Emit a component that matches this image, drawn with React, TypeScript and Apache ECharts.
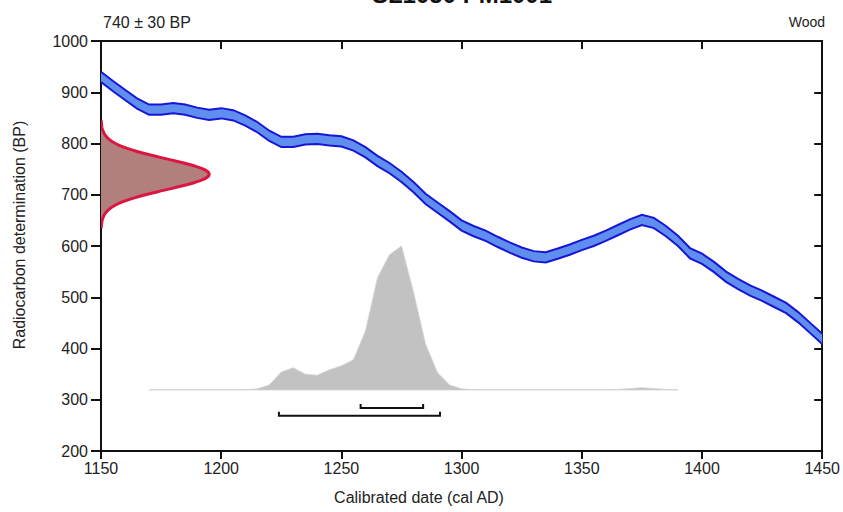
import React, { useEffect, useRef } from "react";
import * as echarts from "echarts";

// ---------- data ----------
const TITLE = "SL1050 PM1001";
const SAMPLE_LABEL = "740 ± 30 BP";
const MATERIAL = "Wood";
const X_NAME = "Calibrated date (cal AD)";
const Y_NAME = "Radiocarbon determination (BP)";
const SAMPLE_BP = 740;
const SAMPLE_ERR = 30;

const CAL_YEARS = [
  1150, 1155, 1160, 1165, 1170, 1175, 1180, 1185, 1190, 1195, 1200, 1205, 1210, 1215, 1220,
  1225, 1230, 1235, 1240, 1245, 1250, 1255, 1260, 1265, 1270, 1275, 1280, 1285, 1290, 1295,
  1300, 1305, 1310, 1315, 1320, 1325, 1330, 1335, 1340, 1345, 1350, 1355, 1360, 1365, 1370,
  1375, 1380, 1385, 1390, 1395, 1400, 1405, 1410, 1415, 1420, 1425, 1430, 1435, 1440, 1445, 1450,
];
const CAL_BP = [
  930, 912, 895, 878, 866, 866, 869, 866, 860, 856, 859, 855, 845, 832, 815,
  803, 803, 808, 809, 806, 804, 796, 783, 766, 752, 735, 715, 692, 675, 658,
  640, 629, 620, 608, 597, 587, 580, 578, 585, 593, 602, 610, 620, 631, 642,
  651, 645, 629, 610, 586, 575, 559, 540, 526, 513, 503, 491, 479, 461, 440, 419,
];
const CAL_ERR = 10;

const POST_YEARS = [
  1170, 1175, 1180, 1185, 1190, 1195, 1200, 1205, 1210, 1215, 1220, 1225, 1230, 1235, 1240,
  1245, 1250, 1255, 1260, 1265, 1270, 1275, 1280, 1285, 1290, 1295, 1300, 1305, 1310, 1315,
  1320, 1325, 1330, 1335, 1340, 1345, 1350, 1355, 1360, 1365, 1370, 1375, 1380, 1385, 1390,
];
const POST_PROB = [
  0.002, 0.002, 0.002, 0.002, 0.002, 0.002, 0.002, 0.002, 0.003, 0.008, 0.035, 0.125, 0.155, 0.11, 0.103,
  0.14, 0.168, 0.21, 0.41, 0.78, 0.94, 1.0, 0.68, 0.32, 0.12, 0.035, 0.008, 0.003, 0.002, 0.002,
  0.002, 0.002, 0.002, 0.002, 0.002, 0.002, 0.002, 0.002, 0.002, 0.004, 0.01, 0.016, 0.01, 0.004, 0.002,
];

const RANGE_68 = [1258, 1284];
const RANGE_95 = [1224, 1291];

const X_MIN = 1150, X_MAX = 1450, X_STEP = 50;
const Y_MIN = 200, Y_MAX = 1000, Y_STEP = 100;

// ---------- display constants ----------
const POST_BASE_BP = 319;
const POST_HEIGHT_BP = 281;
const GAUSS_WIDTH_YR = 45;
const RANGE_68_BP = 284;
const RANGE_95_BP = 269;

const FONT = "'Liberation Sans', Arial, sans-serif";

export default function App() {
  const ref = useRef<HTMLDivElement>(null);

  useEffect(() => {
    const chart = echarts.init(ref.current!, undefined, { renderer: "svg" });

    const bandRender = (params: any, api: any) => {
      if (params.dataIndex !== 0) return null;
      const upper = CAL_YEARS.map((y, i) => api.coord([y, CAL_BP[i] + CAL_ERR]));
      const lower = CAL_YEARS.map((y, i) => api.coord([y, CAL_BP[i] - CAL_ERR]));
      const poly = upper.concat(lower.slice().reverse());
      return {
        type: "group",
        children: [
          { type: "polygon", shape: { points: poly }, style: { fill: "#5f8eee", stroke: "none" } },
          { type: "polyline", shape: { points: upper }, style: { fill: "none", stroke: "#1616d6", lineWidth: 2 } },
          { type: "polyline", shape: { points: lower }, style: { fill: "none", stroke: "#1616d6", lineWidth: 2 } },
        ],
      };
    };

    const gaussRender = (params: any, api: any) => {
      if (params.dataIndex !== 0) return null;
      const pts: number[][] = [];
      for (let bp = SAMPLE_BP - 3.5 * SAMPLE_ERR; bp <= SAMPLE_BP + 3.5 * SAMPLE_ERR + 0.01; bp += 1.5) {
        const z = (bp - SAMPLE_BP) / SAMPLE_ERR;
        pts.push(api.coord([X_MIN + GAUSS_WIDTH_YR * Math.exp(-0.5 * z * z), bp]));
      }
      const a = api.coord([X_MIN, SAMPLE_BP - 3.5 * SAMPLE_ERR]);
      const b = api.coord([X_MIN, SAMPLE_BP + 3.5 * SAMPLE_ERR]);
      return {
        type: "group",
        children: [
          { type: "polygon", shape: { points: [a, ...pts, b] }, style: { fill: "#b27f7f", stroke: "none" } },
          { type: "polyline", shape: { points: pts }, style: { fill: "none", stroke: "#dc1640", lineWidth: 3 } },
        ],
      };
    };

    const postRender = (params: any, api: any) => {
      if (params.dataIndex !== 0) return null;
      const top = POST_YEARS.map((y, i) => api.coord([y, POST_BASE_BP + POST_HEIGHT_BP * POST_PROB[i]]));
      const base = [api.coord([POST_YEARS[POST_YEARS.length - 1], POST_BASE_BP]), api.coord([POST_YEARS[0], POST_BASE_BP])];
      return {
        type: "polygon",
        shape: { points: top.concat(base) },
        style: { fill: "#c2c2c2", stroke: "#d4d4d4", lineWidth: 0.8 },
      };
    };

    const rangeRender = (params: any, api: any) => {
      const x0 = api.value(0), x1 = api.value(1), bp = api.value(2);
      const p0 = api.coord([x0, bp]);
      const p1 = api.coord([x1, bp]);
      return {
        type: "polyline",
        shape: { points: [[p0[0], p0[1] - 4], p0, p1, [p1[0], p1[1] - 4]] },
        style: { fill: "none", stroke: "#111", lineWidth: 2 },
      };
    };

    const axisLine = { lineStyle: { color: "#111", width: 2 } };
    const plain = (v: number) => String(v);

    chart.setOption({
      animation: false,
      grid: { left: 101, right: 18, top: 41, bottom: 61 },
      xAxis: [
        {
          type: "value", min: X_MIN, max: X_MAX, interval: X_STEP, position: "bottom",
          axisLine: { show: true, ...axisLine },
          axisTick: { show: true, inside: false, length: 8, lineStyle: { color: "#111", width: 2 } },
          axisLabel: { fontSize: 16, color: "#222", fontFamily: FONT, margin: 9, formatter: plain },
          splitLine: { show: false },
        },
        {
          type: "value", min: X_MIN, max: X_MAX, interval: X_STEP, position: "top",
          axisLine: { show: true, ...axisLine },
          axisTick: { show: true, inside: true, length: 8, lineStyle: { color: "#111", width: 2 } },
          axisLabel: { show: false },
          splitLine: { show: false },
        },
      ],
      yAxis: [
        {
          type: "value", min: Y_MIN, max: Y_MAX, interval: Y_STEP, position: "left",
          axisLine: { show: true, ...axisLine },
          axisTick: { show: true, inside: false, length: 10, lineStyle: { color: "#111", width: 2 } },
          axisLabel: { fontSize: 16, color: "#222", fontFamily: FONT, margin: 13, formatter: plain },
          splitLine: { show: false },
        },
        {
          type: "value", min: Y_MIN, max: Y_MAX, interval: Y_STEP, position: "right",
          axisLine: { show: true, ...axisLine },
          axisTick: { show: true, inside: true, length: 8, lineStyle: { color: "#111", width: 2 } },
          axisLabel: { show: false },
          splitLine: { show: false },
        },
      ],
      graphic: [
        {
          type: "text", x: 462, y: 6,
          style: { text: TITLE, font: `bold 24px ${FONT}`, fill: "#111", align: "center", verticalAlign: "bottom" },
        },
        {
          type: "text", x: 103, y: 22,
          style: { text: SAMPLE_LABEL, font: `16px ${FONT}`, fill: "#222", align: "left", verticalAlign: "middle" },
        },
        {
          type: "text", x: 825, y: 22,
          style: { text: MATERIAL, font: `14px ${FONT}`, fill: "#222", align: "right", verticalAlign: "middle" },
        },
        {
          type: "text", x: 419, y: 497,
          style: { text: X_NAME, font: `16px ${FONT}`, fill: "#222", align: "center", verticalAlign: "middle" },
        },
        {
          type: "text", x: 19, y: 235, rotation: Math.PI / 2,
          style: { text: Y_NAME, font: `16px ${FONT}`, fill: "#222", align: "center", verticalAlign: "middle" },
        },
      ],
      series: [
        {
          type: "custom", renderItem: postRender, data: [[POST_YEARS[0], POST_BASE_BP]], z: 1,
          silent: true, clip: true,
        },
        {
          type: "custom", renderItem: bandRender, data: [[CAL_YEARS[0], CAL_BP[0]]], z: 2,
          silent: true, clip: true,
        },
        {
          type: "custom", renderItem: gaussRender, data: [[X_MIN, SAMPLE_BP]], z: 3,
          silent: true, clip: true,
        },
        {
          type: "custom", renderItem: rangeRender, z: 4, silent: true,
          encode: { x: [0, 1], y: 2 },
          data: [
            [RANGE_68[0], RANGE_68[1], RANGE_68_BP],
            [RANGE_95[0], RANGE_95[1], RANGE_95_BP],
          ],
        },
      ],
    });

    return () => chart.dispose();
  }, []);

  return (
    <div
      ref={ref}
      style={{ position: "absolute", left: 0, top: 0, width: 843, height: 512, background: "#fff" }}
    />
  );
}
